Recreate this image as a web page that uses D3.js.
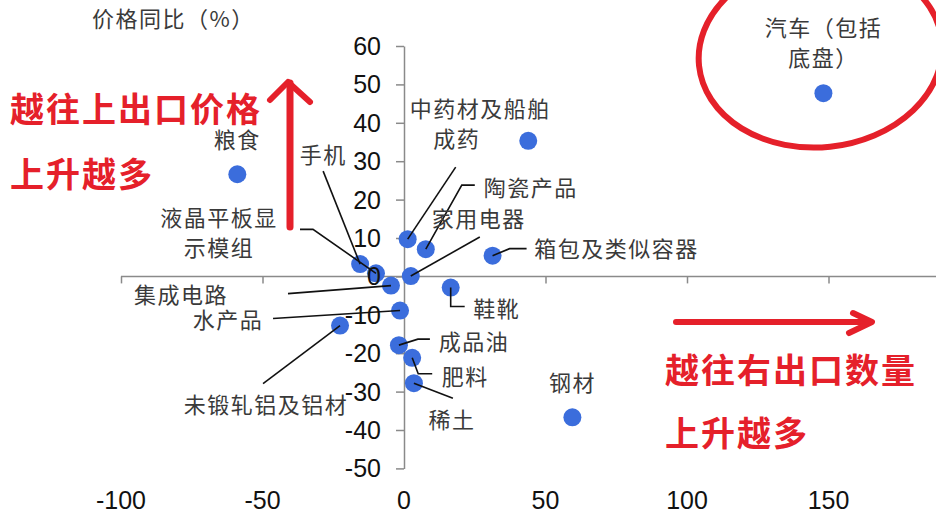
<!DOCTYPE html>
<html>
  <head>
    <meta charset="utf-8">
    <style>
      body { margin: 0; background: #fff; }
      svg text { font-family: "Noto Sans CJK SC", sans-serif; }
    </style>
  </head>
  <body>
    <script src="https://d3js.org/d3.v7.min.js"></script>
    <script>
      // data: 出口数量同比 (x) vs 价格同比 (y), %
      var names = ["粮食", "汽车（包括底盘）", "钢材", "船舶", "中药材及成药", "陶瓷产品", "家用电器",
                   "箱包及类似容器", "手机", "液晶平板显示模组", "集成电路", "鞋靴", "水产品",
                   "未锻轧铝及铝材", "成品油", "肥料", "稀土"];
      var qtyYoY   = [-58.9, 148.2, 59.5, 43.9, 1.3, 7.7, 2.4, 31.3, -15.5, -9.9, -4.6, 16.5, -1.4, -22.6, -1.8, 2.9, 3.5];
      var priceYoY = [26.6, 47.7, -36.7, 35.3, 9.7, 7.1, 0.1, 5.4, 3.2, 0.8, -2.4, -2.9, -8.9, -12.8, -17.9, -21.2, -27.8];
      var xTicks = [-100, -50, 0, 50, 100, 150];
      var yTicks = [-50, -40, -30, -20, -10, 0, 10, 20, 30, 40, 50, 60];
      var yTitle = "价格同比（%）";
      var noteUp = ["越往上出口价格", "上升越多"];
      var noteRight = ["越往右出口数量", "上升越多"];

      // label layout (pixel offsets from the point); wrap = chars on first line
      var layout = {
        "粮食":           {dx: 0, dy: -36},
        "汽车（包括底盘）": {dx: 0, dy: -67, wrap: 5},
        "钢材":           {dx: 0, dy: -36},
        "船舶":           {dx: -1, dy: -34},
        "中药材及成药":    {dx: 49, dy: -132, wrap: 4, leader: [[48, -72]]},
        "陶瓷产品":        {dx: 105, dy: -63, leader: [[36, -64], [49, -64]]},
        "家用电器":        {dx: 68, dy: -59, leader: [[69, -39]]},
        "箱包及类似容器":  {dx: 124, dy: -9, leader: [[17, -7], [34, -7]]},
        "手机":           {dx: -37, dy: -111, leader: [[-37, -93]]},
        "液晶平板显示模组": {dx: -157, dy: -57, wrap: 5, leader: [[-63, -44], [-76, -44]]},
        "集成电路":        {dx: -210, dy: 7, leader: [[-103, 8]]},
        "鞋靴":           {dx: 46, dy: 19, leader: [[0, 19], [14, 19]]},
        "水产品":          {dx: -172, dy: 7, leader: [[-127, 8]]},
        "未锻轧铝及铝材":  {dx: -74, dy: 77, leader: [[-77, 58]]},
        "成品油":          {dx: 75, dy: -5, leader: [[19, -6], [31, -6]]},
        "肥料":           {dx: 53, dy: 17, leader: [[6, 16], [20, 16]]},
        "稀土":           {dx: 38, dy: 35, leader: [[39, 15]]}
      };

      var width = 936, height = 526;
      var svg, x, y;
      var red = "#e5202a", labelColor = "#3a3a3a", axisColor = "#8a8a8a";

      main();

      function main(){
        svg = d3.select("body").append("svg")
          .attr("width", width)
          .attr("height", height);

        x = d3.scaleLinear().domain([-100, 150]).range([121, 828.5]);
        y = d3.scaleLinear().domain([-50, 60]).range([468.4, 46]);

        var pts = names.map(function(n, i){
          return {name: n, px: x(qtyYoY[i]), py: y(priceYoY[i])};
        });

        // red hand-drawn-ish loop round the car point
        var car = pts[1];
        svg.append("ellipse")
          .attr("cx", car.px - 3).attr("cy", car.py - 40)
          .attr("rx", 122).attr("ry", 94)
          .attr("transform", "rotate(-6," + (car.px - 3) + "," + (car.py - 40) + ")")
          .attr("fill", "none").attr("stroke", red).attr("stroke-width", 6);

        // horizontal axis (ticks on the zero line, labels at the bottom)
        var gx = svg.append("g").attr("transform", "translate(0," + y(0) + ")")
          .call(d3.axisBottom(x).tickValues(xTicks).tickSizeInner(7).tickSizeOuter(0).tickFormat(""));
        gx.select(".domain").attr("d", "M" + x(-100) + ",0H" + width);
        gx.selectAll("line").attr("stroke", axisColor).attr("stroke-width", 1.5);
        gx.select(".domain").attr("stroke", axisColor).attr("stroke-width", 1.5);

        var gy = svg.append("g").attr("transform", "translate(" + x(0) + ",0)")
          .call(d3.axisLeft(y).tickValues(yTicks).tickSizeInner(8).tickSizeOuter(0).tickFormat(""));
        gy.selectAll("line, .domain").attr("stroke", axisColor).attr("stroke-width", 1.5);

        // points
        svg.append("g").selectAll("circle")
          .data(pts).enter().append("circle")
          .attr("cx", function(d){ return d.px; })
          .attr("cy", function(d){ return d.py; })
          .attr("r", 9)
          .attr("fill", "#3b6ddc");

        // leader lines
        var line = d3.line();
        svg.append("g").selectAll("path")
          .data(pts.filter(function(d){ return layout[d.name].leader; }))
          .enter().append("path")
          .attr("d", function(d){
            var p = [[d.px, d.py]].concat(layout[d.name].leader.map(function(o){ return [d.px + o[0], d.py + o[1]]; }));
            return line(p);
          })
          .attr("fill", "none").attr("stroke", "#111").attr("stroke-width", 1.6);

        // tick labels
        svg.append("g").selectAll("text")
          .data(yTicks).enter().append("text")
          .attr("x", x(0) - 23).attr("y", function(d){ return y(d); })
          .attr("text-anchor", "end").attr("dominant-baseline", "central")
          .style("font-family", "'Liberation Sans', Arial, sans-serif")
          .style("font-size", "25px").attr("fill", "#111")
          .text(function(d){ return d; });

        svg.append("g").selectAll("text")
          .data(xTicks).enter().append("text")
          .attr("x", function(d){ return x(d); }).attr("y", 500)
          .attr("text-anchor", "middle").attr("dominant-baseline", "central")
          .style("font-family", "'Liberation Sans', Arial, sans-serif")
          .style("font-size", "25px").attr("fill", "#111")
          .text(function(d){ return d; });

        svg.append("text")
          .attr("x", 92).attr("y", 17).attr("dominant-baseline", "central")
          .style("font-size", "22px").style("letter-spacing", "1.5px").attr("fill", labelColor)
          .text(yTitle);

        // point labels
        pts.forEach(function(d){
          var L = layout[d.name];
          var lines = L.wrap ? [d.name.slice(0, L.wrap), d.name.slice(L.wrap)] : [d.name];
          lines.forEach(function(t, k){
            svg.append("text")
              .attr("x", d.px + L.dx).attr("y", d.py + L.dy + k * 30)
              .attr("text-anchor", "middle").attr("dominant-baseline", "central")
              .style("font-size", "22px").style("letter-spacing", "1.5px")
              .attr("fill", labelColor)
              .text(t);
          });
        });

        // red notes and arrows
        noteUp.forEach(function(t, k){
          svg.append("text").attr("x", 10).attr("y", 107 + k * 65)
            .attr("dominant-baseline", "central")
            .style("font-size", "34px").style("font-weight", "bold").style("letter-spacing", "2px")
            .attr("fill", red).text(t);
        });
        noteRight.forEach(function(t, k){
          svg.append("text").attr("x", 665).attr("y", 368 + k * 63)
            .attr("dominant-baseline", "central")
            .style("font-size", "34px").style("font-weight", "bold").style("letter-spacing", "2px")
            .attr("fill", red).text(t);
        });

        svg.append("path").attr("d", line([[290, 227], [290, 83]]))
          .attr("stroke", red).attr("stroke-width", 7).attr("stroke-linecap", "round").attr("fill", "none");
        svg.append("path").attr("d", line([[270, 100], [288, 82], [310, 102]]))
          .attr("stroke", red).attr("stroke-width", 6).attr("stroke-linecap", "round")
          .attr("stroke-linejoin", "round").attr("fill", "none");

        svg.append("path").attr("d", line([[676, 322], [870, 322]]))
          .attr("stroke", red).attr("stroke-width", 6).attr("stroke-linecap", "round").attr("fill", "none");
        svg.append("path").attr("d", line([[853, 313], [872, 322], [849, 333]]))
          .attr("stroke", red).attr("stroke-width", 6).attr("stroke-linecap", "round")
          .attr("stroke-linejoin", "round").attr("fill", "none");
      }
    </script>
  </body>
</html>
